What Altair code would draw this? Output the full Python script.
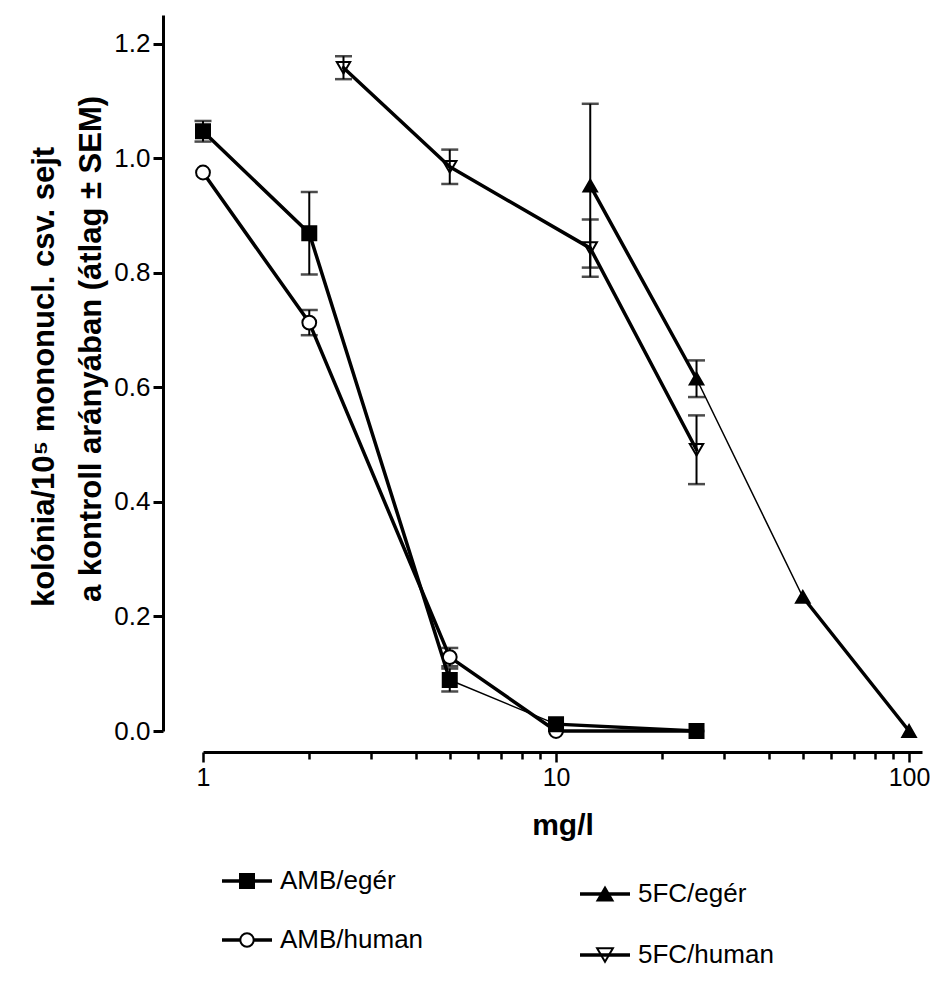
import altair as alt
import pandas as pd

# ---------------- data ----------------
series_names = ["AMB/egér", "AMB/human", "5FC/egér", "5FC/human"]

amb_eger_x = [1, 2, 5, 10, 25]
amb_eger_y = [1.047, 0.869, 0.089, 0.012, 0.0]
amb_eger_sem = [0.018, 0.072, 0.020, 0.0, 0.0]

amb_human_x = [1, 2, 5, 10, 25]
amb_human_y = [0.975, 0.713, 0.129, 0.0, 0.0]
amb_human_sem = [0.0, 0.022, 0.016, 0.0, 0.0]

fc_eger_x = [12.5, 25, 50, 100]
fc_eger_y = [0.952, 0.615, 0.234, 0.0]
fc_eger_sem = [0.143, 0.032, 0.0, 0.0]

fc_human_x = [2.5, 5, 12.5, 25]
fc_human_y = [1.158, 0.985, 0.843, 0.491]
fc_human_sem = [0.02, 0.03, 0.05, 0.06]

y_ticks = [0.0, 0.2, 0.4, 0.6, 0.8, 1.0, 1.2]
x_ticks = [1, 2, 3, 4, 5, 6, 7, 8, 9, 10, 20, 30, 40, 50, 60, 70, 80, 90, 100]
x_major = [1, 10, 100]

y_title_lines = ["kolónia/10⁵ mononucl. csv. sejt", "a kontroll arányában (átlag ± SEM)"]
x_title = "mg/l"

# ---------------- styles ----------------
THICK, THIN = 3.5, 1.5
# segments drawn thin in the original (series, starting x)
thin_segments = {("AMB/egér", 5), ("5FC/egér", 25)}
shapes = ["square", "circle", "triangle-up", "triangle-down"]
fills = ["black", "white", "black", "transparent"]
sizes = [196, 180, 230, 250]
draw_order = ["AMB/human", "AMB/egér", "5FC/human", "5FC/egér"]  # squares above circles
FONT = "Liberation Sans"

all_series = {
    "AMB/egér": (amb_eger_x, amb_eger_y, amb_eger_sem),
    "AMB/human": (amb_human_x, amb_human_y, amb_human_sem),
    "5FC/egér": (fc_eger_x, fc_eger_y, fc_eger_sem),
    "5FC/human": (fc_human_x, fc_human_y, fc_human_sem),
}

pts, segs = [], []
for name in draw_order:
    xs, ys, es = all_series[name]
    for i, (x, y, e) in enumerate(zip(xs, ys, es)):
        pts.append({"series": name, "x": x, "y": y, "lo": y - e, "hi": y + e, "sem": e})
        if i + 1 < len(xs):
            segs.append({"series": name, "x": x, "y": y, "x2": xs[i + 1], "y2": ys[i + 1],
                         "sw": THIN if (name, x) in thin_segments else THICK})
pts = pd.DataFrame(pts)
segs = pd.DataFrame(segs)
errs = pts[pts["sem"] > 0]

xscale = alt.Scale(type="log", domain=[1, 108.8], nice=False)
yscale = alt.Scale(domain=[0, 1.25], nice=False, zero=False)

major_test = " || ".join(f"datum.value == {v}" for v in x_major)
xaxis = alt.Axis(
    values=x_ticks, labelExpr=f"({major_test}) ? format(datum.value, 'd') : ''",
    title=x_title, titleFontSize=30, titleFontWeight="bold", titleFont=FONT, titleColor="black",
    titlePadding=20, labelFont=FONT, labelFontSize=25, labelColor="black", labelPadding=3,
    labelOverlap=False, labelFlush=False, grid=False, offset=21,
    domainColor="black", domainWidth=3, tickColor="black", tickWidth=2.5,
    tickSize={"condition": {"test": major_test, "value": 10}, "value": 7},
)
yaxis = alt.Axis(
    values=y_ticks, format=".1f", title=None, labelFont=FONT, labelFontSize=26,
    labelColor="black", labelPadding=3, grid=False, offset=40,
    domainColor="black", domainWidth=3, tickColor="black", tickWidth=3, tickSize=10,
)

lines = alt.Chart(segs).mark_rule(color="black", strokeCap="round").encode(
    x=alt.X("x:Q", scale=xscale, axis=xaxis),
    x2="x2:Q",
    y=alt.Y("y:Q", scale=yscale, axis=yaxis),
    y2="y2:Q",
    strokeWidth=alt.StrokeWidth("sw:Q", scale=None, legend=None),
)

err_rule = alt.Chart(errs).mark_rule(color="black", strokeWidth=2).encode(
    x="x:Q", y="lo:Q", y2="hi:Q")
cap_lo = alt.Chart(errs).mark_tick(color="black", orient="horizontal", size=17, thickness=2.5).encode(
    x="x:Q", y="lo:Q")
cap_hi = alt.Chart(errs).mark_tick(color="black", orient="horizontal", size=17, thickness=2.5).encode(
    x="x:Q", y="hi:Q")

markers = alt.Chart(pts).mark_point(stroke="black", strokeWidth=2, opacity=1).encode(
    x="x:Q", y="y:Q",
    shape=alt.Shape("series:N", scale=alt.Scale(domain=series_names, range=shapes), legend=None),
    fill=alt.Fill("series:N", scale=alt.Scale(domain=series_names, range=fills), legend=None),
    size=alt.Size("series:N", scale=alt.Scale(domain=series_names, range=sizes), legend=None),
    fillOpacity=alt.value(1),
)

# y-axis title (two rotated lines)
ytitle_layers = []
for line, px, py in zip(y_title_lines, [-158, -111], [362, 334]):
    ytitle_layers.append(
        alt.Chart(pd.DataFrame({"t": [line]})).mark_text(
            angle=270, align="center", baseline="middle", font=FONT, fontSize=31,
            fontWeight="bold", color="black").encode(
            x=alt.value(px), y=alt.value(py), text="t:N"))

# manual legend (layout positions relative to plot origin)
legend_pos = [(44, 866), (44, 925), (402, 879), (402, 940)]
legend_layers = []
for name, shp, fl, sz, (mx, my) in zip(series_names, shapes, fills, sizes, legend_pos):
    d = pd.DataFrame({"t": [name]})
    legend_layers.append(alt.Chart(d).mark_rule(color="black", strokeWidth=THICK).encode(
        x=alt.value(mx - 25), x2=alt.value(mx + 25), y=alt.value(my)))
    legend_layers.append(alt.Chart(d).mark_point(
        shape=shp, fill=fl, fillOpacity=1, stroke="black", strokeWidth=2, size=sz, opacity=1).encode(
        x=alt.value(mx), y=alt.value(my)))
    legend_layers.append(alt.Chart(d).mark_text(
        align="left", baseline="middle", font=FONT, fontSize=26, color="black").encode(
        x=alt.value(mx + 33), y=alt.value(my), text="t:N"))

chart = alt.layer(lines, err_rule, cap_lo, cap_hi, markers, *ytitle_layers, *legend_layers).properties(
    width=719, height=716,
    padding={"left": 203, "top": 15, "right": 8, "bottom": 259},
    autosize=alt.AutoSizeParams(type="none"),
    background="white",
).configure_view(stroke=None)

chart.save("out.html", embed_options={"renderer": "svg", "actions": False})
